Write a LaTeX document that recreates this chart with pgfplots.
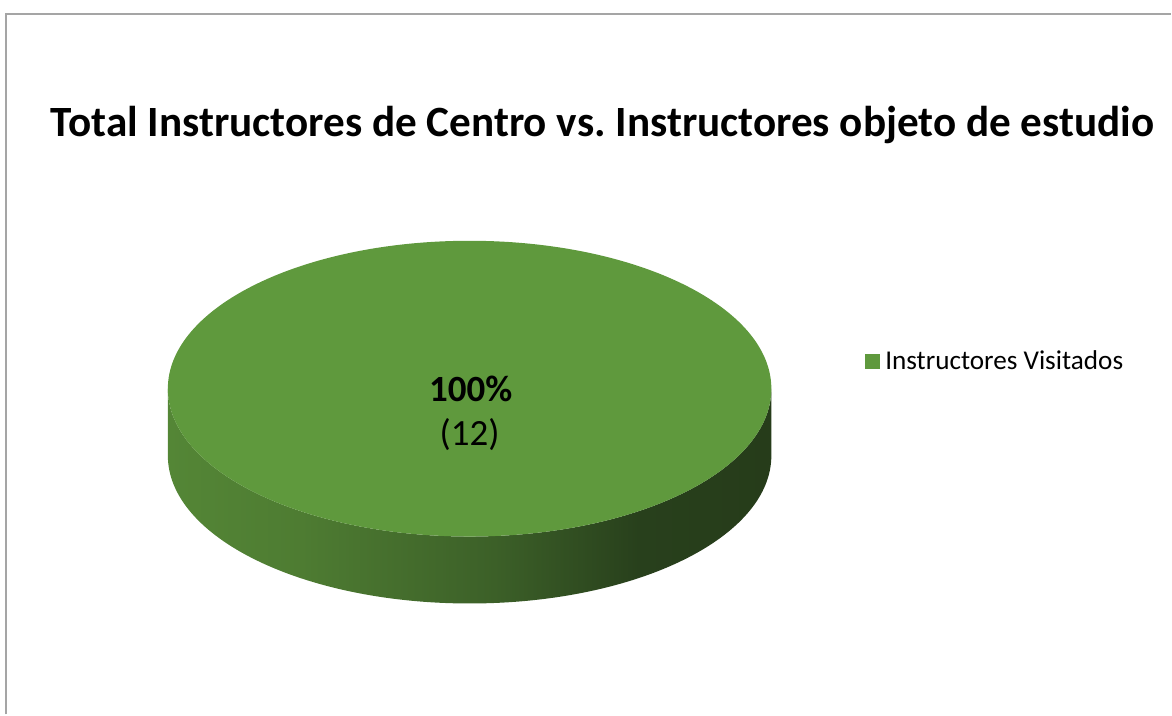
\documentclass[border=0pt]{standalone}
\usepackage{pgfplots}
\pgfplotsset{compat=1.18}
\usepackage{pgfplotstable}
\usepackage{fontspec}
\setmainfont{Carlito}
\definecolor{piegreen}{RGB}{95,153,61}
\definecolor{sideA}{RGB}{84,134,54}
\definecolor{sideB}{RGB}{78,124,50}
\definecolor{sideC}{RGB}{60,96,40}
\definecolor{sideD}{RGB}{40,64,28}
\definecolor{sideE}{RGB}{38,60,26}
\definecolor{framegray}{RGB}{165,165,165}
\pgfdeclarehorizontalshading{pieside}{100bp}{color(0bp)=(sideA); color(25bp)=(sideA); color(36bp)=(sideB); color(52bp)=(sideC); color(64bp)=(sideD); color(75bp)=(sideE); color(100bp)=(sideE)}
\pgfplotstableread{
label value
Visitados 12
}\piedata
\begin{document}
\frenchspacing
\begin{tikzpicture}
\pgfplotstablegetelem{0}{value}\of\piedata
\let\pieval\pgfplotsretval
\pgfmathsetmacro{\pietotal}{\pieval}
\pgfmathsetmacro{\piepct}{100*\pieval/\pietotal}
\begin{axis}[
  x=0.5pt, y=0.5pt,
  xmin=0, xmax=1172, ymin=0, ymax=715,
  hide axis, clip=false,
  /pgf/number format/assume math mode=true,
  legend style={at={(axis cs:865,353)}, anchor=west, draw=none, fill=none,
    font=\fontsize{13.6}{15}\selectfont, inner sep=0pt,
    legend cell align=left},
]
\path (axis cs:0,0) rectangle (axis cs:1172,715);
% frame
\draw[framegray, line width=1pt] (axis cs:6,0) -- (axis cs:6,701) -- (axis cs:1172,701);
% title
\node[anchor=base, font=\bfseries\fontsize{21.6}{25}\selectfont] at (axis cs:603,578)
  {Total Instructores de Centro vs.\ Instructores objeto de estudio};
% side of the slice
\shade[shading=pieside] (axis cs:168,326) -- (axis cs:168,259)
  arc[start angle=180, end angle=360, x radius=151pt, y radius=74pt]
  -- (axis cs:772,326)
  arc[start angle=0, end angle=-180, x radius=151pt, y radius=74pt] -- cycle;
% top face (single slice, 100%)
\fill[piegreen] (axis cs:470,326) ellipse [x radius=151pt, y radius=74pt];
% labels
\node[anchor=base, font=\bfseries\fontsize{18.5}{20}\selectfont] at (axis cs:471,313)
  {\pgfmathprintnumber[fixed,precision=0]{\piepct}\%};
\node[anchor=base, font=\fontsize{18.5}{20}\selectfont] at (axis cs:470,269)
  {(\pgfmathprintnumber{\pieval})};
\addlegendimage{legend image code/.code={\fill[piegreen] (0pt,-3.6pt) rectangle (7.4pt,3.6pt);}}
\addlegendentry{\hspace{0.5pt}Instructores Visitados}
\end{axis}
\end{tikzpicture}
\end{document}
